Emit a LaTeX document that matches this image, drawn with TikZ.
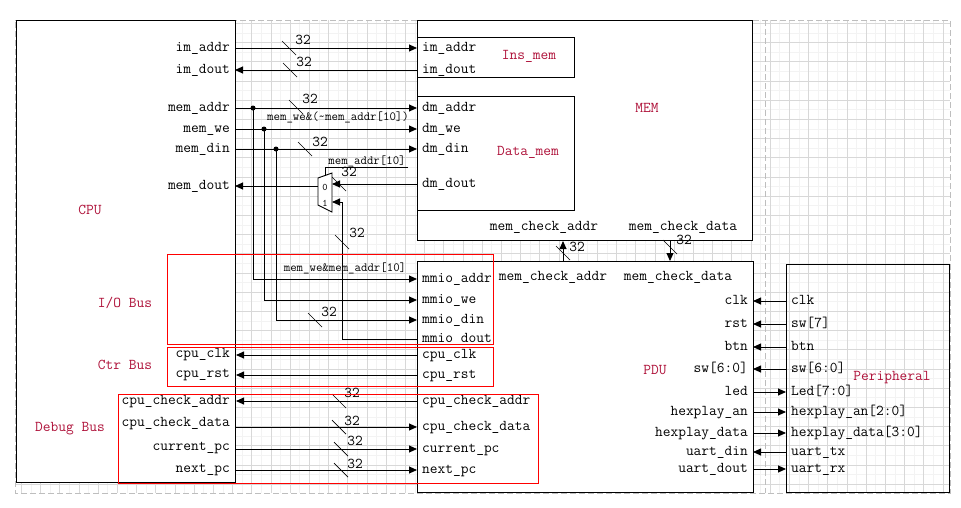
\documentclass[tikz,border=0pt]{standalone}
\usepackage{fontspec}
\usepackage{tikz}
\usetikzlibrary{arrows.meta,calc,positioning}
\definecolor{titlered}{RGB}{175,18,58}
\definecolor{busred}{RGB}{255,0,0}
\definecolor{gridmajor}{RGB}{216,216,216}
\definecolor{gridminor}{RGB}{243,243,243}
\definecolor{pagegray}{RGB}{190,190,190}
\tikzset{
  wire/.style={black,line width=0.9pt},
  flow/.style={wire,-{Triangle[length=8pt,width=7pt]}},
  block/.style={draw=black,line width=1pt,fill=white,inner sep=0pt},
  frame/.style={draw=black,line width=1pt,inner sep=0pt},
  bus/.style={draw=busred,line width=0.9pt,inner sep=0pt},
  port/.style={font=\fontsize{15}{17}\ttfamily,inner xsep=5pt,inner ysep=2pt,
               text height=9pt,text depth=3pt},
  tag/.style={font=\fontsize{12.5}{14}\ttfamily,inner sep=1pt},
  title/.style={font=\fontsize{15}{17}\ttfamily,text=titlered},
  buswidth/.style={font=\fontsize{15}{17}\ttfamily,inner sep=1pt},
  slash/.style={black,line width=0.7pt},
  junction/.style={circle,fill=black,inner sep=0pt,minimum size=5pt},
  majorgrid/.style={gridmajor,line width=0.6pt},
  minorgrid/.style={gridminor,line width=0.5pt},
  pageline/.style={pagegray,line width=0.6pt,dash pattern=on 6pt off 3pt},
}

\begin{document}
\begin{tikzpicture}[x=1pt,y=-1pt]
  \path[use as bounding box] (0,0) rectangle (961,507);
  \foreach \k in {1,...,48} \draw[minorgrid] ({11.7+19.2*\k},20) -- ({11.7+19.2*\k},493);
  \foreach \k in {1,...,24} \draw[minorgrid] (15,{13.7+19.2*\k}) -- (950,{13.7+19.2*\k});
  \foreach \k in {1,...,49} \draw[majorgrid] ({2.1+19.2*\k},20) -- ({2.1+19.2*\k},493);
  \foreach \k in {1,...,25} \draw[majorgrid] (15,{4.1+19.2*\k}) -- (950,{4.1+19.2*\k});
  \draw[pageline] (15,20) -- (950,20) -- (950,493) -- (15,493) -- cycle;
  \draw[pageline] (765,20) -- (765,493);

  \node[block,minimum width=219,minimum height=462,anchor=north west] (cpu) at (16,20) {};
  \node[block,minimum width=335,minimum height=220,anchor=north west] (mem) at (417,20) {};
  \node[frame,minimum width=157,minimum height=40,anchor=north west] (insmem) at (417,37) {};
  \node[frame,minimum width=157,minimum height=114,anchor=north west] (datamem) at (417,96) {};
  \node[block,minimum width=336,minimum height=231,anchor=north west] (pdu) at (417,261) {};
  \node[frame,minimum width=163,minimum height=228,anchor=north west] (periph) at (786,264) {};

  \node[title] (cputitle) at (90,210) {CPU};
  \node[title] (memtitle) at (647,108) {MEM};
  \node[title] (institle) at (529,56) {Ins\_mem};
  \node[title] (datatitle) at (528,152) {Data\_mem};
  \node[title] (pdutitle) at (655,370) {PDU};
  \node[title] (periphtitle) at (892,378) {Peripheral};
  \node[title] (iotitle) at (125,303) {I/O Bus};
  \node[title] (ctrtitle) at (125,365) {Ctr Bus};
  \node[title] (dbgtitle) at (70,429) {Debug Bus};

  % CPU side
  \node[port,anchor=east] (cimaddr) at (235,48) {im\_addr};
  \node[port,anchor=east] (cimdout) at (235,70) {im\_dout};
  \node[port,anchor=east] (cmemaddr) at (235,108) {mem\_addr};
  \node[port,anchor=east] (cmemwe) at (235,129) {mem\_we};
  \node[port,anchor=east] (cmemdin) at (235,149) {mem\_din};
  \node[port,anchor=east] (cmemdout) at (235,186) {mem\_dout};
  \node[port,anchor=east] (ccpuclk) at (235,354) {cpu\_clk};
  \node[port,anchor=east] (ccpurst) at (235,374) {cpu\_rst};
  \node[port,anchor=east] (cchkaddr) at (235,401) {cpu\_check\_addr};
  \node[port,anchor=east] (cchkdata) at (235,423) {cpu\_check\_data};
  \node[port,anchor=east] (ccurpc) at (235,447) {current\_pc};
  \node[port,anchor=east] (cnextpc) at (235,469) {next\_pc};

  % MEM side
  \node[port,anchor=west] (mimaddr) at (417,48) {im\_addr};
  \node[port,anchor=west] (mimdout) at (417,70) {im\_dout};
  \node[port,anchor=west] (mdmaddr) at (417,108) {dm\_addr};
  \node[port,anchor=west] (mdmwe) at (417,129) {dm\_we};
  \node[port,anchor=west] (mdmdin) at (417,149) {dm\_din};
  \node[port,anchor=west] (mdmdout) at (417,184) {dm\_dout};
  \node[port] (mchkaddr) at (544,227) {mem\_check\_addr};
  \node[port] (mchkdata) at (683,227) {mem\_check\_data};

  % PDU side
  \node[port] (pchkmaddr) at (553,277) {mem\_check\_addr};
  \node[port] (pchkmdata) at (678,277) {mem\_check\_data};
  \node[port,anchor=west] (pmmioaddr) at (417,279) {mmio\_addr};
  \node[port,anchor=west] (pmmiowe) at (417,300) {mmio\_we};
  \node[port,anchor=west] (pmmiodin) at (417,320) {mmio\_din};
  \node[port,anchor=west] (pmmiodout) at (417,339) {mmio\_dout};
  \node[port,anchor=west] (pcpuclk) at (417,355) {cpu\_clk};
  \node[port,anchor=west] (pcpurst) at (417,375) {cpu\_rst};
  \node[port,anchor=west] (pchkaddr) at (417,401) {cpu\_check\_addr};
  \node[port,anchor=west] (pchkdata) at (417,427) {cpu\_check\_data};
  \node[port,anchor=west] (pcurpc) at (417,449) {current\_pc};
  \node[port,anchor=west] (pnextpc) at (417,470) {next\_pc};
  \node[port,anchor=east] (pclk) at (753,301) {clk};
  \node[port,anchor=east] (prst) at (753,324) {rst};
  \node[port,anchor=east] (pbtn) at (753,347) {btn};
  \node[port,anchor=east] (psw) at (753,369) {sw[6:0]};
  \node[port,anchor=east] (pled) at (753,392) {led};
  \node[port,anchor=east] (phexan) at (753,412) {hexplay\_an};
  \node[port,anchor=east] (phexdata) at (753,433) {hexplay\_data};
  \node[port,anchor=east] (puartdin) at (753,452) {uart\_din};
  \node[port,anchor=east] (puartdout) at (753,469) {uart\_dout};

  % Peripheral side
  \node[port,anchor=west] (qclk) at (786,301) {clk};
  \node[port,anchor=west] (qsw7) at (786,324) {sw[7]};
  \node[port,anchor=west] (qbtn) at (786,347) {btn};
  \node[port,anchor=west] (qsw) at (786,369) {sw[6:0]};
  \node[port,anchor=west] (qled) at (786,392) {Led[7:0]};
  \node[port,anchor=west] (qhexan) at (786,412) {hexplay\_an[2:0]};
  \node[port,anchor=west] (qhexdata) at (786,433) {hexplay\_data[3:0]};
  \node[port,anchor=west] (quarttx) at (786,452) {uart\_tx};
  \node[port,anchor=west] (quartrx) at (786,469) {uart\_rx};

  \draw[flow] (cimaddr.east) -- (mimaddr.west);
  \draw[flow] (mimdout.west) -- (cimdout.east);
  \draw[flow] (cmemaddr.east) -- (mdmaddr.west);
  \draw[flow] (cmemwe.east) -- (mdmwe.west);
  \draw[flow] (cmemdin.east) -- (mdmdin.west);

  \node[junction] (jaddr) at (253,108) {};
  \node[junction] (jwe) at (264,129) {};
  \node[junction] (jdin) at (276,149) {};
  \draw[flow] (jaddr.center) |- (pmmioaddr.west);
  \draw[flow] (jwe.center) |- (pmmiowe.west);
  \draw[flow] (jdin.center) |- (pmmiodin.west);

  \coordinate (muxa) at (318,178);
  \coordinate (muxb) at (332,173);
  \coordinate (muxc) at (332,212);
  \coordinate (muxd) at (318,205);
  \coordinate (muxo) at (318,186);
  \coordinate (muxin0) at (332,184);
  \coordinate (muxin1) at (332,202);
  \coordinate (muxsel) at (325,175.5);
  \coordinate (selend) at (408,167);
  \coordinate (bend) at (342,202);
  \draw[wire,fill=white] (muxa) -- (muxb) -- (muxc) -- (muxd) -- cycle;
  \node[font=\fontsize{10}{11}\ttfamily,inner sep=0pt] (muxlab0) at (325,187) {0};
  \node[font=\fontsize{10}{11}\ttfamily,inner sep=0pt] (muxlab1) at (325,203) {1};
  \draw[flow] (muxo) -- (cmemdout.east);
  \draw[flow] (mdmdout.west) -- (muxin0);
  \draw[flow] (pmmiodout.west) -| (bend) -- (muxin1);
  \draw[wire] (selend) -| (muxsel);

  \node[tag] (selnote) at (367,161) {mem\_addr[10]};
  \node[tag] (wenote) at (338,117) {mem\_we\&(\textasciitilde mem\_addr[10])};
  \node[tag] (mmionote) at (345,268) {mem\_we\&mem\_addr[10]};

  \coordinate (upx) at (563,250);
  \coordinate (downx) at (670,250);
  \draw[flow] (pdu.north -| upx) -- (mem.south -| upx);
  \draw[flow] (mem.south -| downx) -- (pdu.north -| downx);

  \draw[flow] (pcpuclk.west) -- (cpu.east |- pcpuclk.west);
  \draw[flow] (pcpurst.west) -- (cpu.east |- pcpurst.west);
  \draw[flow] (pchkaddr.west) -- (cpu.east |- pchkaddr.west);
  \draw[flow] (cpu.east |- pchkdata.west) -- (pchkdata.west);
  \draw[flow] (cpu.east |- pcurpc.west) -- (pcurpc.west);
  \draw[flow] (cpu.east |- pnextpc.west) -- (pnextpc.west);

  \draw[flow] (qclk.west) -- (pclk.east);
  \draw[flow] (qsw7.west) -- (prst.east);
  \draw[flow] (qbtn.west) -- (pbtn.east);
  \draw[flow] (qsw.west) -- (psw.east);
  \draw[flow] (pled.east) -- (qled.west);
  \draw[flow] (phexan.east) -- (qhexan.west);
  \draw[flow] (phexdata.east) -- (qhexdata.west);
  \draw[flow] (quarttx.west) -- (puartdin.east);
  \draw[flow] (puartdout.east) -- (quartrx.west);

  \foreach \sx/\sy/\lx/\ly [count=\i] in {289/48/303/40, 290/70/304/62, 296/107/310/99,
      305/149/320/142, 315/320/329/312, 342/242/357/233, 339/184/349/172,
      563/253/577/247, 670/247/684/240, 339/401/352/393, 339/427/352/421,
      341/449/355/441, 341/470/355/464}
  {
    \draw[slash] (\sx-7,\sy-7) -- (\sx+7,\sy+7);
    \node[buswidth] (w\i) at (\lx,\ly) {32};
  }

  \node[bus,minimum width=326,minimum height=90,anchor=north west] (iobus) at (167,254) {};
  \node[bus,minimum width=326,minimum height=39,anchor=north west] (ctrbus) at (167,347) {};
  \node[bus,minimum width=420,minimum height=89,anchor=north west] (dbgbus) at (118,394) {};
\end{tikzpicture}
\end{document}
